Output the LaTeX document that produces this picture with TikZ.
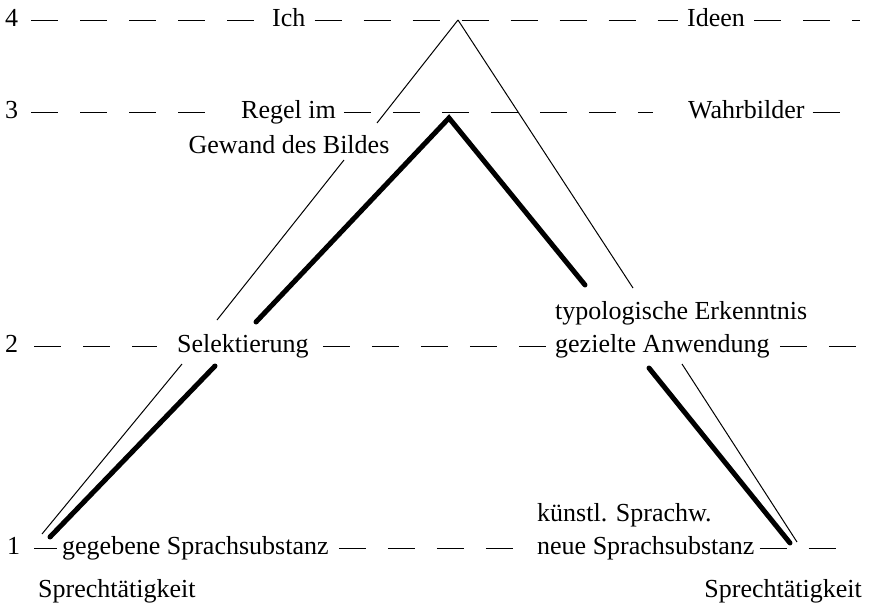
\documentclass[tikz,border=0pt]{standalone}
\usepackage{fontspec}
\setmainfont{Liberation Serif}
\begin{document}
\fontsize{26}{31}\selectfont
\begin{tikzpicture}[x=1pt,y=-1pt,
  lbl/.style={inner sep=0pt, font=\fontsize{26}{31}\selectfont},
  dashline/.style={line width=0.9pt, dash pattern=on 27pt off 22pt},
  thinline/.style={line width=1pt},
  thickline/.style={line width=5pt, line cap=round, line join=miter}]
\useasboundingbox (0,0) rectangle (871,605);
% level labels
\node[lbl, anchor=base west] (n4) at (5,26) {4};
\node[lbl, anchor=base west] (n3) at (5,118) {3};
\node[lbl, anchor=base west] (n2) at (5,352) {2};
\node[lbl, anchor=base west] (n1) at (7,554) {1};
% texts
\node[lbl, anchor=base west] (ich) at (272,26) {Ich};
\node[lbl, anchor=base west] (ideen) at (687,26) {Ideen};
\node[lbl, anchor=base west] (regel) at (241,118) {Regel im};
\node[lbl, anchor=base] (gewand) at (289,153) {Gewand des Bildes};
\node[lbl, anchor=base west] (wahr) at (688,118) {Wahrbilder};
\node[lbl, anchor=base west] (sel) at (177,352) {Selektierung};
\node[lbl, anchor=base west] (typo) at (555,319) {typologische Erkenntnis};
\node[lbl, anchor=base west] (gez) at (555,352) {gezielte Anwendung};
\node[lbl, anchor=base west] (geg) at (62,554) {gegebene Sprachsubstanz};
\node[lbl, anchor=base west] (kuen) at (537,521) {künstl. Sprachw.};
\node[lbl, anchor=base west] (neue) at (537,554) {neue Sprachsubstanz};
\node[lbl, anchor=base west] (sprL) at (38,597) {Sprechtätigkeit};
\node[lbl, anchor=base east] (sprR) at (862,597) {Sprechtätigkeit};
% line ends
\coordinate (e4) at (860,20);
\coordinate (e3) at (860,112);
\coordinate (e2) at (865,346);
\coordinate (e1) at (837,548);
% dashed levels (at mid x-height: 6pt above the baseline)
\draw[dashline] ([shift={(13pt,6pt)}]n4.base east) -- ([shift={(-9pt,6pt)}]ich.base west);
\draw[dashline] ([shift={(9pt,6pt)}]ich.base east) -- ([shift={(-9pt,6pt)}]ideen.base west);
\draw[dashline] ([shift={(9pt,6pt)}]ideen.base east) -- (e4);
\draw[dashline] ([shift={(13pt,6pt)}]n3.base east) -- ([shift={(-25pt,6pt)}]regel.base west);
\draw[dashline] ([shift={(8pt,6pt)}]regel.base east) -- ([shift={(-35pt,6pt)}]wahr.base west);
\draw[dashline] ([shift={(8pt,6pt)}]wahr.base east) -- (e3);
\draw[dashline] ([shift={(16pt,6pt)}]n2.base east) -- ([shift={(-20pt,6pt)}]sel.base west);
\draw[dashline] ([shift={(14pt,6pt)}]sel.base east) -- ([shift={(-3pt,6pt)}]gez.base west);
\draw[dashline] ([shift={(10pt,6pt)}]gez.base east) -- (e2);
\draw[dashline] ([shift={(14pt,6pt)}]n1.base east) -- ([shift={(-5pt,6pt)}]geg.base west);
\draw[dashline] ([shift={(10pt,6pt)}]geg.base east) -- ([shift={(-6pt,6pt)}]neue.base west);
\draw[dashline] ([shift={(5pt,6pt)}]neue.base east) -- (e1);
% thin outer triangle
\coordinate (top) at (458,20);
\coordinate (tl1) at (377,123);
\coordinate (tl2) at (344,160);
\coordinate (tl3) at (217,320);
\coordinate (tl4) at (182,364);
\coordinate (tl5) at (42,534);
\coordinate (tr1) at (633,288);
\coordinate (tr2) at (682,364);
\coordinate (tr3) at (797,542);
\draw[thinline] (top) -- (tl1);
\draw[thinline] (tl2) -- (tl3);
\draw[thinline] (tl4) -- (tl5);
\draw[thinline] (top) -- (tr1);
\draw[thinline] (tr2) -- (tr3);
% thick inner triangle
\coordinate (apex) at (449,118);
\coordinate (kl1) at (256,322);
\coordinate (kl2) at (215,366);
\coordinate (kl3) at (50,537);
\coordinate (kr1) at (585,285);
\coordinate (kr2) at (649,368);
\coordinate (kr3) at (790,543);
\draw[thickline] (kl1) -- (apex) -- (kr1);
\draw[thickline] (kl2) -- (kl3);
\draw[thickline] (kr2) -- (kr3);
\end{tikzpicture}
\end{document}
